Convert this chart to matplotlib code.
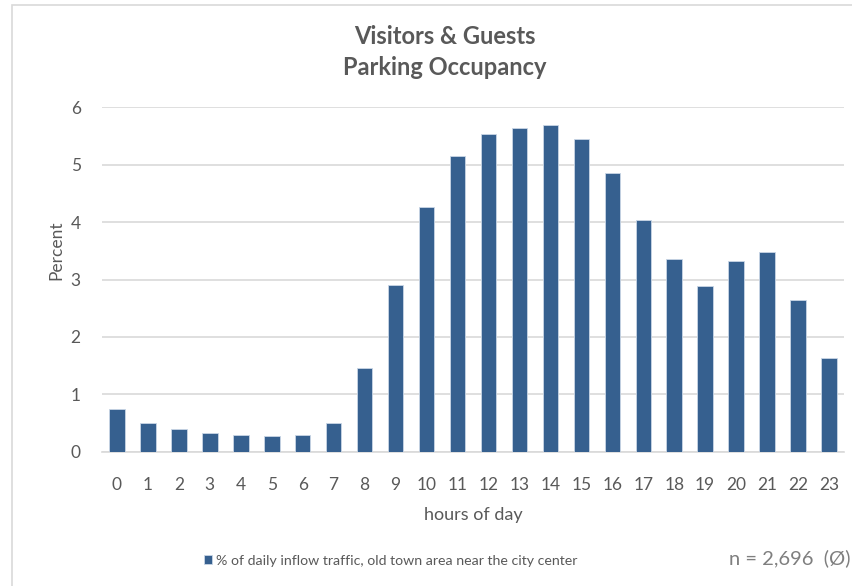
import numpy as np
import matplotlib
matplotlib.use("Agg")
import matplotlib.pyplot as plt
from matplotlib.patches import Rectangle

# hourly share of daily inflow (percent)
hours = list(range(24))
share = [0.75, 0.50, 0.40, 0.33, 0.30, 0.28, 0.30, 0.50,
         1.46, 2.90, 4.26, 5.15, 5.53, 5.63, 5.69, 5.44,
         4.85, 4.03, 3.36, 2.89, 3.32, 3.48, 2.64, 1.63]
yticks = [0, 1, 2, 3, 4, 5, 6]

bar_color = "#36608F"
text_color = "#595959"

plt.rcParams['font.family'] = ['Lato', 'DejaVu Sans']

fig = plt.figure(figsize=(8.53, 5.86), dpi=100)
ax = fig.add_axes([0.119, 0.229, 0.871, 0.588])

ax.bar(hours, share, width=0.5, color=bar_color, edgecolor="#C9D6E6",
       linewidth=0.6, zorder=3,
       label="% of daily inflow traffic, old town area near the city center")

ax.set_xlim(-0.5, 23.5)
ax.set_ylim(0, 6)
ax.set_yticks(yticks)
ax.set_xticks(hours)
ax.set_xticklabels([str(h) for h in hours])
ax.grid(axis="y", color="#D9D9D9", linewidth=1.2, zorder=0)
for s in ["top", "right", "left"]:
    ax.spines[s].set_visible(False)
ax.spines["bottom"].set_color("#D9D9D9")
ax.spines["bottom"].set_linewidth(1.2)
ax.tick_params(length=0, labelsize=12.5, colors=text_color)
ax.tick_params(axis="x", pad=18)
ax.tick_params(axis="y", pad=15)

ax.set_xlabel("hours of day", fontsize=13, color=text_color, labelpad=10)
ax.set_ylabel("Percent", fontsize=12.5, color=text_color)
ax.yaxis.set_label_coords(-0.05, 0.585)

fig.text(0.521, 0.937, "Visitors & Guests", ha="center", va="center",
         fontsize=17, fontweight="bold", color=text_color)
fig.text(0.521, 0.884, "Parking Occupancy", ha="center", va="center",
         fontsize=17, fontweight="bold", color=text_color)

leg = fig.legend(loc="center", bbox_to_anchor=(0.458, 0.043), frameon=False,
                 fontsize=10.2, handlelength=0.6, handleheight=0.6,
                 handletextpad=0.3)
for t in leg.get_texts():
    t.set_color(text_color)

fig.text(0.997, 0.048, "n = 2,696  (Ø)", ha="right", va="center",
         fontsize=14.5, color="#7F7F7F")

# light chart border as in the original
fig.patches.append(Rectangle((12 / 853, -0.05), 1.0, 1.05 - 5 / 586,
                             transform=fig.transFigure, fill=False,
                             edgecolor="#D9D9D9", linewidth=1.2))

fig.savefig("out.png", dpi=100)
